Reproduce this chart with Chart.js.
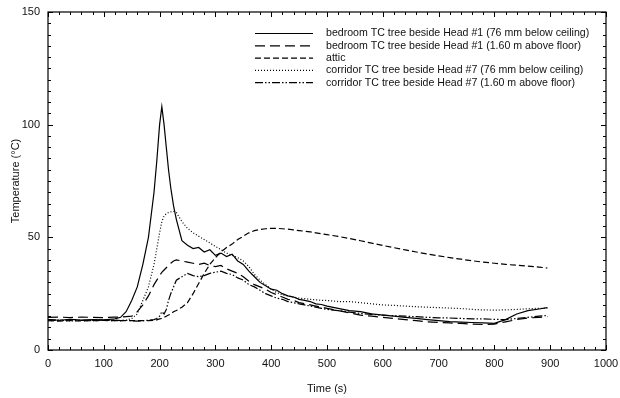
<!DOCTYPE html>
<html>
<head>
<meta charset="utf-8">
<script src="https://cdn.jsdelivr.net/npm/chart.js@4/dist/chart.umd.min.js"></script>
<style>
  html, body { margin: 0; padding: 0; background: #fff; }
  #wrap { width: 620px; height: 398px; }
</style>
</head>
<body>
<div id="wrap"><canvas id="tempchart" width="620" height="398"></canvas></div>
<script>
// time axis shared by all five traces (s)
const times = [0,20,40,60,80,100,120,130,140,150,160,170,180,190,195,200,204,208,212,216,220,225,230,
  240,250,260,270,280,290,300,310,320,330,340,350,360,370,380,390,400,410,420,430,440,450,460,470,480,490,500,
  520,540,560,580,600,620,640,660,680,700,720,740,760,780,800,820,840,860,880,895];

const bedroomCeiling = [13.5,13.2,13.6,13.3,13.5,13.4,13.8,14.5,17,22,28,38,50,70,84,100,108,100,90,80,72,64,58,
  48.5,46.5,45,45.5,43.5,44.5,42,43,41.5,42.5,39.5,38,35,32.5,30,28.5,27,26.5,25,24,23.5,22.5,22,21.5,20.5,20.2,19.5,
  18.5,17.5,17,16,15.5,15,14.5,14,13.5,13,12.6,12.4,12.2,12,11.8,13.5,16,17.5,18.2,18.8];

const bedroomFloor = [14.5,14.6,14.4,14.6,14.5,14.4,14.6,14.6,14.8,15,17,20,24,29,31,33,34.5,35.5,36.5,37.5,38.5,39.5,40,
  39.5,39,38.5,38,38.5,37.5,37,37.5,36,35,34,32.5,30.5,29,28,27,25.5,24.5,23.5,22.5,22,21,20.5,20,19.5,19,18.5,
  17.5,16.5,15.5,15,14.5,14,13.5,13,12.5,12.2,12,11.8,11.5,11.3,11.5,12.5,13.5,14.2,14.5,14.8];

const attic = [13,12.8,13,12.9,13,13.1,13,13,13,13,13,13,13,13.2,13.4,13.8,14,14.5,15,15.5,16,17,17.5,
  19,21,25,29.5,34,38,41,43.5,45.5,47,49,50.5,52,53,53.5,53.8,54,54,53.8,53.6,53.3,53,52.7,52.4,52,51.6,51.2,
  50.4,49.5,48.5,47.4,46.4,45.4,44.4,43.5,42.6,41.8,41,40.3,39.6,39,38.5,38,37.6,37.2,36.8,36.4];

const corridorCeiling = [13,13.2,12.9,13.1,13,13.2,13,13,13.2,14,16,22,28,38,45,52,57,59.5,60.5,61,61.3,61.5,61,
  57,54,52,50.5,49,47.5,46,44.5,43,42,41,39.5,37,33.5,31,29,27,25.5,24.5,24,23.5,23,22.8,22.5,22.3,22,22,
  21.5,21.5,21,20.5,20,19.8,19.5,19.2,19,18.8,18.6,18.4,18,17.8,17.7,17.8,18,18.3,18.5,18.6];

const corridorFloor = [13.5,13.2,13.4,13.1,13.3,13.2,13.3,13,13.2,13,12.8,13,13.2,13.5,14,15,17,16,18,22,25,28,31,
  32.5,34,33,32.5,33,34,34.5,35,34,33.5,32,31,29,28,26.5,25,24,23,22.5,21.5,21,20.5,20,19.5,19,18.5,18,
  17.5,16.8,16.2,15.8,15.5,15.2,15,14.8,14.5,14.3,14.2,14,13.8,13.8,13.6,13.5,14,14.5,15,15.3];

const seriesLabels = [
  'bedroom TC tree beside Head #1 (76 mm below ceiling)',
  'bedroom TC tree beside Head #1 (1.60 m above floor)',
  'attic',
  'corridor TC tree beside Head #7 (76 mm below ceiling)',
  'corridor TC tree beside Head #7 (1.60 m above floor)'
];
const seriesValues = [bedroomCeiling, bedroomFloor, attic, corridorCeiling, corridorFloor];
const seriesDash = [[], [10,5], [6,3], [1,2], [8,2,1.5,2,1.5,2]];

const xTicks = [0,100,200,300,400,500,600,700,800,900,1000];
const yTicks = [0,50,100,150];

const datasets = seriesValues.map(function (vals, i) {
  return {
    label: seriesLabels[i],
    data: times.map(function (t, j) { return {x: t, y: vals[j]}; }),
    borderColor: '#000',
    backgroundColor: '#000',
    borderWidth: 1.2,
    borderDash: seriesDash[i],
    pointRadius: 0,
    tension: 0
  };
});

const FONT = 'Liberation Sans, Arial, sans-serif';

// frame, inward ticks and the in-plot legend
const framePlugin = {
  id: 'frame',
  afterDatasetsDraw(chart) {
    const ctx = chart.ctx;
    const a = chart.chartArea;
    const xs = chart.scales.x, ys = chart.scales.y;
    ctx.save();
    ctx.strokeStyle = '#000';
    ctx.lineWidth = 1.2;
    ctx.setLineDash([]);
    ctx.strokeRect(a.left, a.top, a.right - a.left, a.bottom - a.top);
    ctx.lineWidth = 1;
    ctx.beginPath();
    for (let v = 0; v <= 1000; v += 20) {
      const px = Math.round(xs.getPixelForValue(v)) + 0.5;
      const len = v % 100 === 0 ? 5 : 3;
      ctx.moveTo(px, a.bottom); ctx.lineTo(px, a.bottom - len);
      ctx.moveTo(px, a.top); ctx.lineTo(px, a.top + len);
    }
    for (let v = 0; v <= 150; v += 5) {
      const py = Math.round(ys.getPixelForValue(v)) + 0.5;
      const len = v % 50 === 0 ? 5 : 3;
      ctx.moveTo(a.left, py); ctx.lineTo(a.left + len, py);
      ctx.moveTo(a.right, py); ctx.lineTo(a.right - len, py);
    }
    ctx.stroke();

    // legend
    ctx.font = '10.6px ' + FONT;
    ctx.fillStyle = '#111';
    ctx.textBaseline = 'middle';
    ctx.lineWidth = 1.2;
    for (let i = 0; i < seriesLabels.length; i++) {
      const y = 33.5 + i * 12.3;
      ctx.setLineDash(seriesDash[i]);
      ctx.beginPath();
      ctx.moveTo(255, y); ctx.lineTo(313, y);
      ctx.stroke();
      ctx.fillText(seriesLabels[i], 326, y);
    }
    ctx.restore();
  }
};

const config = {
  type: 'line',
  data: { datasets: datasets },
  options: {
    responsive: false,
    animation: false,
    layout: { padding: { left: 0, right: 14, top: 12, bottom: 0 } },
    plugins: { legend: { display: false }, tooltip: { enabled: false } },
    scales: {
      x: {
        type: 'linear',
        min: 0, max: 1000,
        afterBuildTicks: function (s) { s.ticks = xTicks.map(function (v) { return {value: v}; }); },
        afterFit: function (s) { s.height = 48; s.paddingRight = 0; s.paddingLeft = 0; },
        grid: { display: false, drawTicks: false },
        border: { display: false },
        ticks: { color: '#111', padding: 7, maxRotation: 0, font: { family: FONT, size: 11 },
                 callback: function (v) { return String(v); } },
        title: { display: true, text: 'Time (s)', color: '#111', padding: { top: 0, bottom: 2 },
                 font: { family: FONT, size: 11 } }
      },
      y: {
        type: 'linear',
        min: 0, max: 150,
        afterBuildTicks: function (s) { s.ticks = yTicks.map(function (v) { return {value: v}; }); },
        afterFit: function (s) { s.width = 48; s.paddingTop = 0; s.paddingBottom = 0; },
        grid: { display: false, drawTicks: false },
        border: { display: false },
        ticks: { color: '#111', padding: 8, font: { family: FONT, size: 11 } },
        title: { display: true, text: 'Temperature (°C)', color: '#111', padding: { top: 9, bottom: 0 },
                 font: { family: FONT, size: 11 } }
      }
    }
  },
  plugins: [framePlugin]
};

new Chart(document.getElementById('tempchart'), config);
</script>
</body>
</html>
